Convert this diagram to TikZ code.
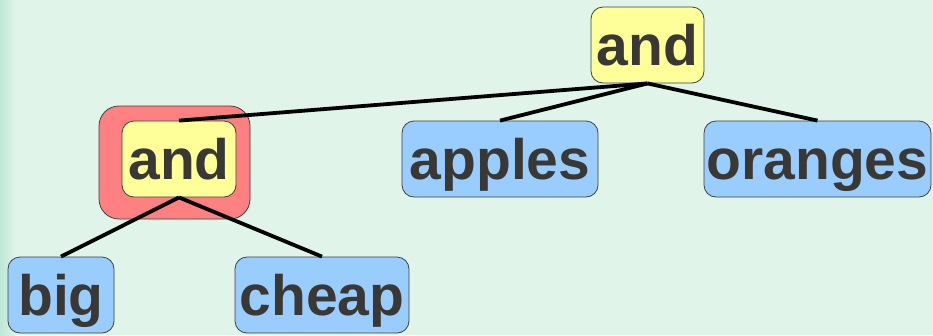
\documentclass[tikz,border=0pt]{standalone}
\usepackage{fontspec}
\setmainfont{Liberation Sans}
\usepackage{xcolor}
\usepackage{tikz}

\definecolor{bgmint}{HTML}{E0F4EA}
\definecolor{edgemint}{HTML}{BDE8D5}
\definecolor{andyellow}{HTML}{FFFF99}
\definecolor{wordblue}{HTML}{99CCFF}
\definecolor{groupred}{HTML}{FF8080}
\definecolor{boxline}{HTML}{404040}
\definecolor{txtgray}{HTML}{3A3835}

\begin{document}
\begin{tikzpicture}[x=1pt,y=-1pt,
  box/.style={draw=boxline, line width=0.8pt, rounded corners=12pt, inner sep=0pt,
    minimum height=76pt, text height=41pt, text depth=0pt, text=txtgray,
    font=\fontsize{57}{60}\selectfont\bfseries},
  andbox/.style={box, fill=andyellow},
  wordbox/.style={box, fill=wordblue},
  groupbox/.style={draw=boxline, line width=0.8pt, rounded corners=20pt, fill=groupred},
  link/.style={line width=3.8pt}]

% Background of the slide
\fill[bgmint] (0,0) rectangle (933,335);
\shade[left color=edgemint, right color=bgmint] (0,0) rectangle (16,335);
\useasboundingbox (0,0) rectangle (933,335);

% Root of the tree
\node[andbox, minimum width=113pt] (top) at (647.5,45) {and};

% Second level
\node[groupbox, minimum width=151pt, minimum height=113pt] (group) at (174.5,162.5) {};
\node[andbox, minimum width=114pt] (inner) at (179,159) {and};
\node[wordbox, minimum width=196pt] (apples) at (500,159) {apples};
\node[wordbox, minimum width=227pt] (oranges) at (817.5,159) {oranges};

% Third level
\node[wordbox, minimum width=106pt] (big) at (61,295) {big};
\node[wordbox, minimum width=174pt] (cheap) at (322,295) {cheap};

% Draw the branches
\draw[link] (top.south) -- (inner.north);
\draw[link] (top.south) -- (apples.north);
\draw[link] (top.south) -- (oranges.north);
\draw[link] (inner.south) -- (big.north);
\draw[link] (inner.south) -- (cheap.north);

\end{tikzpicture}
\end{document}
